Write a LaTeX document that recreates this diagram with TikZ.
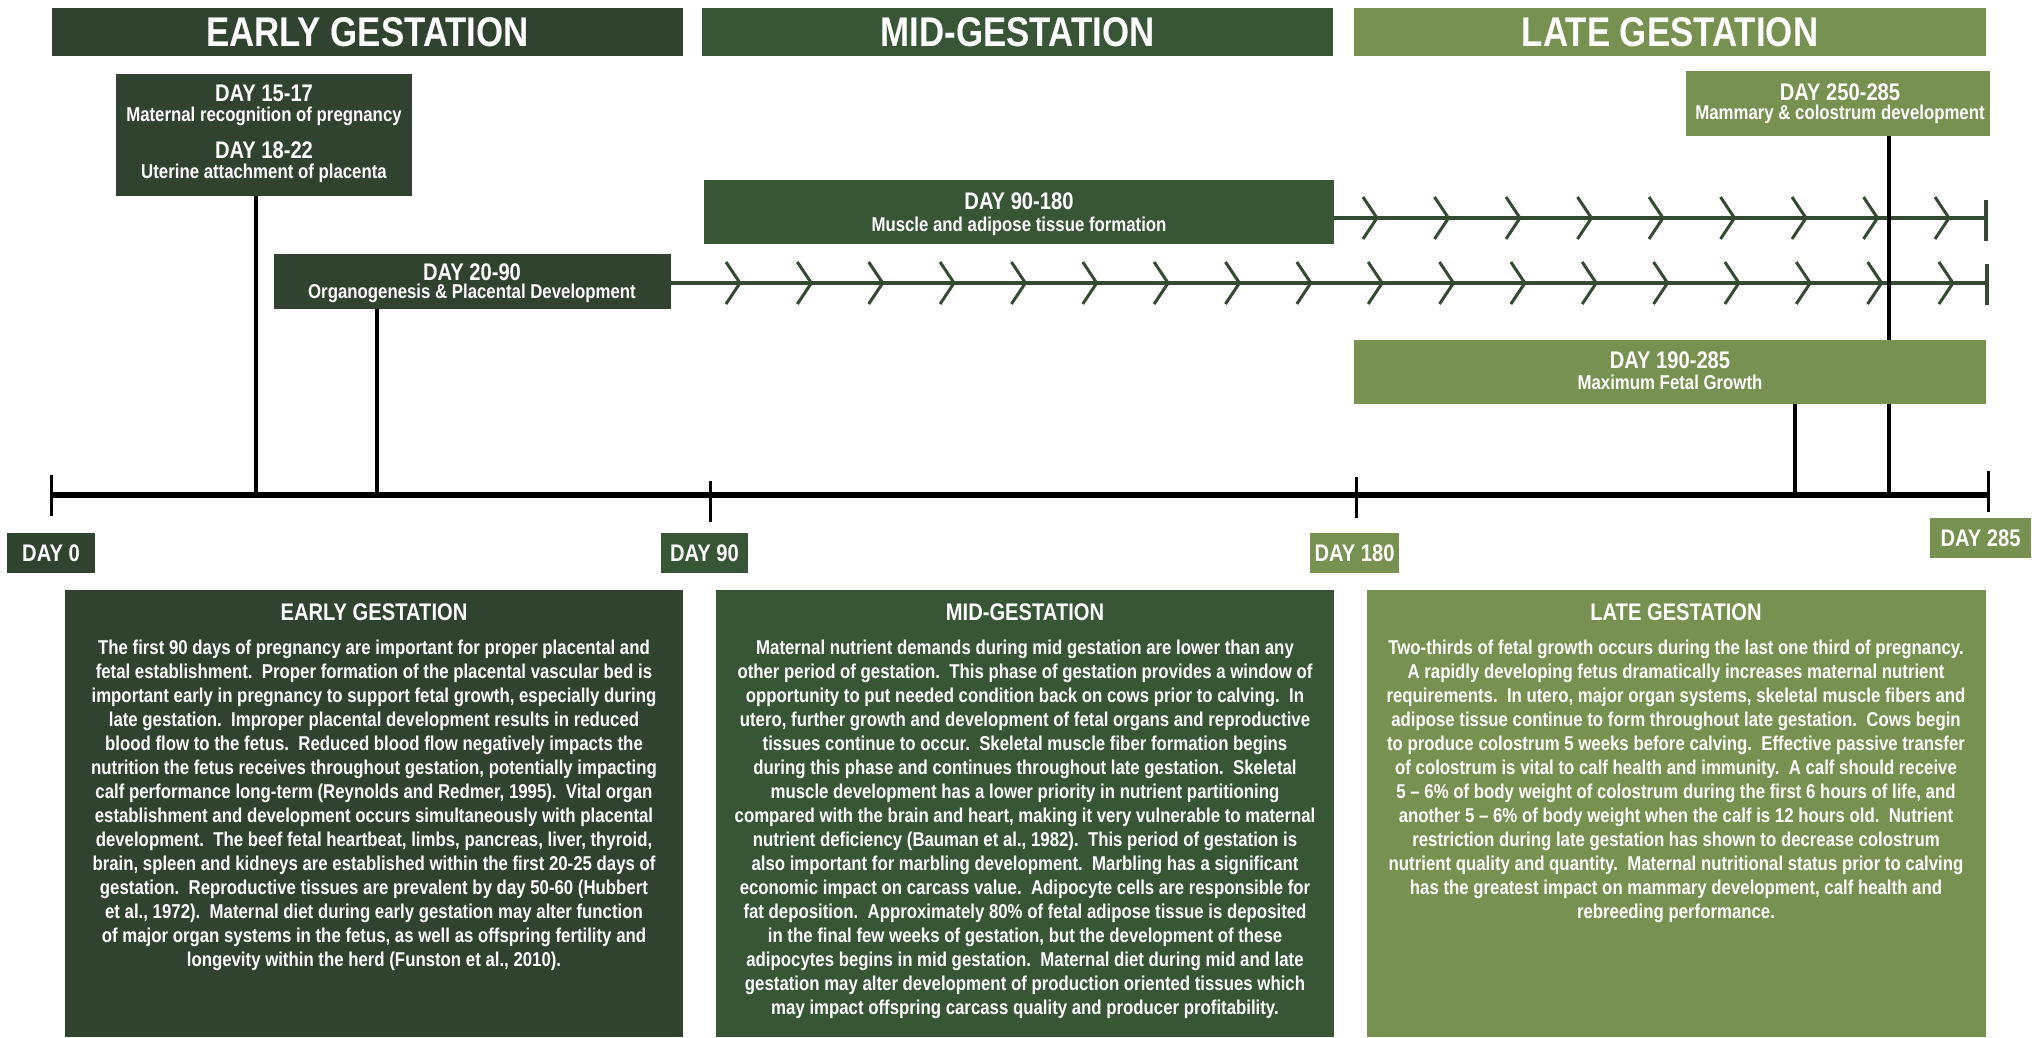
\documentclass[tikz,border=0pt]{standalone}
\usepackage{fontspec}
\setmainfont{Liberation Sans}[FakeStretch=0.84]
\definecolor{earlyc}{HTML}{30432E}
\definecolor{midc}{HTML}{385536}
\definecolor{latec}{HTML}{769150}
\definecolor{chevc}{HTML}{334C31}
\begin{document}
\frenchspacing
\begin{tikzpicture}[x=1pt,y=-1pt,
  box/.style={inner sep=0pt, outer sep=0pt, anchor=north west},
  hdrtext/.style={text=white, font=\bfseries\fontsize{41.5}{46}\selectfont, inner sep=0pt},
  daytext/.style={text=white, font=\bfseries\fontsize{24}{28}\selectfont, inner sep=0pt},
  desctext/.style={text=white, font=\bfseries\fontsize{20}{24}\selectfont, inner sep=0pt},
  bodytext/.style={text=white, font=\bfseries\fontsize{20}{24}\selectfont, align=center, inner sep=0pt, anchor=north},
  blk/.style={black, line width=3.5pt},
  tick/.style={black, line width=3pt},
  chev/.style={chevc, line width=3pt},
  rowline/.style={chevc, line width=4pt},
]
\useasboundingbox (0,0) rectangle (2035,1037);

% ---------- phase headers ----------
\node[box, fill=earlyc, minimum width=631pt, minimum height=48pt] (hE) at (52,8) {};
\node[hdrtext] (hEt) at (hE.center) {EARLY GESTATION};
\node[box, fill=midc, minimum width=631pt, minimum height=48pt] (hM) at (702,8) {};
\node[hdrtext] (hMt) at (hM.center) {MID-GESTATION};
\node[box, fill=latec, minimum width=632pt, minimum height=48pt] (hL) at (1354,8) {};
\node[hdrtext] (hLt) at (hL.center) {LATE GESTATION};

% ---------- timeline coordinates ----------
\coordinate (d0) at (51,495);
\coordinate (d90) at (710,495);
\coordinate (d180) at (1356,495);
\coordinate (d285) at (1988,495);
\coordinate (t1) at (256,495);
\coordinate (t2) at (377,495);
\coordinate (t4) at (1889,495);
\coordinate (t5) at (1795,495);

% ---------- event boxes ----------
\node[box, fill=earlyc, minimum width=296pt, minimum height=122pt] (b1) at (116,74) {};
\node[daytext] (b1a) at (264,93) {DAY 15-17};
\node[desctext] (b1b) at (264,116) {Maternal recognition of pregnancy};
\node[daytext] (b1c) at (264,150) {DAY 18-22};
\node[desctext] (b1d) at (264,173) {Uterine attachment of placenta};

\node[box, fill=earlyc, minimum width=397pt, minimum height=55pt] (b2) at (274,254) {};
\node[daytext] (b2a) at (472,272) {DAY 20-90};
\node[desctext] (b2b) at (472,293) {Organogenesis \& Placental Development};

\node[box, fill=midc, minimum width=630pt, minimum height=64pt] (b3) at (704,180) {};
\node[daytext] (b3a) at (1019,201) {DAY 90-180};
\node[desctext] (b3b) at (1019,226) {Muscle and adipose tissue formation};

\node[box, fill=latec, minimum width=304pt, minimum height=65pt] (b4) at (1686,71) {};
\node[daytext] (b4a) at (1840,92) {DAY 250-285};
\node[desctext] (b4b) at (1840,114) {Mammary \& colostrum development};

% ---------- chevron rows ----------
\coordinate (r1e) at (1986,218);
\coordinate (r2e) at (1987,283);
\draw[rowline] (b3.east |- r1e) -- (r1e);
\draw[rowline] (1986,200) -- (1986,241);
\foreach \k in {0,...,8} {
  \draw[chev] ({1377+71.5*\k-14},197) -- ({1377+71.5*\k},218) -- ({1377+71.5*\k-14},239);
}
\draw[rowline] (b2.east |- r2e) -- (r2e);
\draw[rowline] (1987,264) -- (1987,305);
\foreach \k in {0,...,17} {
  \draw[chev] ({740+71.35*\k-14},262) -- ({740+71.35*\k},283) -- ({740+71.35*\k-14},304);
}

% ---------- black connectors ----------
\draw[blk] (b1.south -| t1) -- (t1);
\draw[blk] (b2.south -| t2) -- (t2);
\draw[blk] (b4.south -| t4) -- (t4);

\node[box, fill=latec, minimum width=632pt, minimum height=64pt] (b5) at (1354,340) {};
\node[daytext] (b5a) at (1670,360) {DAY 190-285};
\node[desctext] (b5b) at (1670,382) {Maximum Fetal Growth};
\draw[blk] (b5.south -| t5) -- (t5);

% ---------- timeline ----------
\draw[black, line width=5.5pt] (d0) -- (d285);
\draw[tick] (51,475) -- (51,516);
\draw[tick] (710,481) -- (710,522);
\draw[tick] (1356,477) -- (1356,518);
\draw[tick] (1988,471) -- (1988,512);

% ---------- day labels ----------
\node[box, fill=earlyc, minimum width=88pt, minimum height=40pt] (l0) at (7,533) {};
\node[daytext] (l0t) at (l0.center) {DAY 0};
\node[box, fill=midc, minimum width=87pt, minimum height=40pt] (l90) at (661,533) {};
\node[daytext] (l90t) at (l90.center) {DAY 90};
\node[box, fill=latec, minimum width=89pt, minimum height=40pt] (l180) at (1310,533) {};
\node[daytext] (l180t) at (l180.center) {DAY 180};
\node[box, fill=latec, minimum width=101pt, minimum height=40pt] (l285) at (1930,518) {};
\node[daytext] (l285t) at (l285.center) {DAY 285};

% ---------- description panels ----------
\node[box, fill=earlyc, minimum width=618pt, minimum height=447pt] (pE) at (65,590) {};
\node[daytext] (pEt) at (374,612) {EARLY GESTATION};
\node[bodytext] (pEb) at (374,640) {The first 90 days of pregnancy are important for proper placental and\\
fetal establishment.~ Proper formation of the placental vascular bed is\\
important early in pregnancy to support fetal growth, especially during\\
late gestation.~ Improper placental development results in reduced\\
blood flow to the fetus.~ Reduced blood flow negatively impacts the\\
nutrition the fetus receives throughout gestation, potentially impacting\\
calf performance long-term (Reynolds and Redmer, 1995).~ Vital organ\\
establishment and development occurs simultaneously with placental\\
development.~ The beef fetal heartbeat, limbs, pancreas, liver, thyroid,\\
brain, spleen and kidneys are established within the first 20-25 days of\\
gestation.~ Reproductive tissues are prevalent by day 50-60 (Hubbert\\
et al., 1972).~ Maternal diet during early gestation may alter function\\
of major organ systems in the fetus, as well as offspring fertility and\\
longevity within the herd (Funston et al., 2010).};

\node[box, fill=midc, minimum width=618pt, minimum height=447pt] (pM) at (716,590) {};
\node[daytext] (pMt) at (1025,612) {MID-GESTATION};
\node[bodytext] (pMb) at (1025,640) {Maternal nutrient demands during mid gestation are lower than any\\
other period of gestation.~ This phase of gestation provides a window of\\
opportunity to put needed condition back on cows prior to calving.~ In\\
utero, further growth and development of fetal organs and reproductive\\
tissues continue to occur.~ Skeletal muscle fiber formation begins\\
during this phase and continues throughout late gestation.~ Skeletal\\
muscle development has a lower priority in nutrient partitioning\\
compared with the brain and heart, making it very vulnerable to maternal\\
nutrient deficiency (Bauman et al., 1982).~ This period of gestation is\\
also important for marbling development.~ Marbling has a significant\\
economic impact on carcass value.~ Adipocyte cells are responsible for\\
fat deposition.~ Approximately 80\% of fetal adipose tissue is deposited\\
in the final few weeks of gestation, but the development of these\\
adipocytes begins in mid gestation.~ Maternal diet during mid and late\\
gestation may alter development of production oriented tissues which\\
may impact offspring carcass quality and producer profitability.};

\node[box, fill=latec, minimum width=619pt, minimum height=447pt] (pL) at (1367,590) {};
\node[daytext] (pLt) at (1676,612) {LATE GESTATION};
\node[bodytext] (pLb) at (1676,640) {Two-thirds of fetal growth occurs during the last one third of pregnancy.\\
A rapidly developing fetus dramatically increases maternal nutrient\\
requirements.~ In utero, major organ systems, skeletal muscle fibers and\\
adipose tissue continue to form throughout late gestation.~ Cows begin\\
to produce colostrum 5 weeks before calving.~ Effective passive transfer\\
of colostrum is vital to calf health and immunity.~ A calf should receive\\
5 – 6\% of body weight of colostrum during the first 6 hours of life, and\\
another 5 – 6\% of body weight when the calf is 12 hours old.~ Nutrient\\
restriction during late gestation has shown to decrease colostrum\\
nutrient quality and quantity.~ Maternal nutritional status prior to calving\\
has the greatest impact on mammary development, calf health and\\
rebreeding performance.};
\end{tikzpicture}
\end{document}
